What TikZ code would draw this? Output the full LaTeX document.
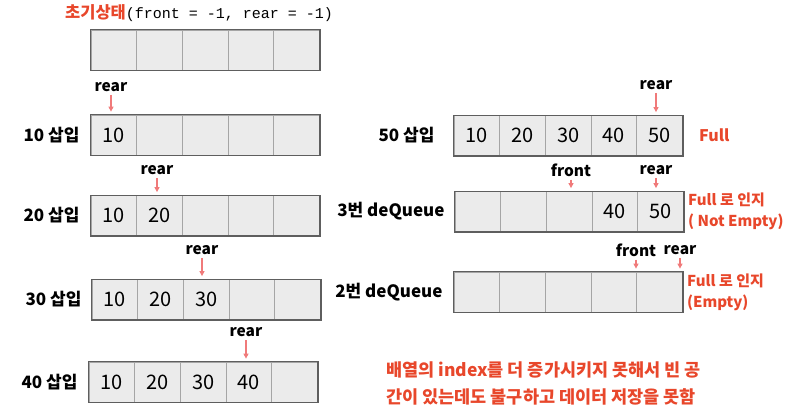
\documentclass[tikz,border=0pt]{standalone}
\usepackage{fontspec}
\setmainfont{Noto Sans CJK KR}
\setmonofont{Liberation Mono}
\usetikzlibrary{arrows.meta,positioning}
\definecolor{cellfill}{HTML}{EBEBEB}
\definecolor{cellline}{HTML}{A5A5A5}
\definecolor{frameline}{HTML}{5E5E5E}
\definecolor{ptrred}{HTML}{F07A7A}
\definecolor{notered}{HTML}{E8472B}

\begin{document}
\begin{tikzpicture}[x=1pt,y=-1pt,
    cell/.style={rectangle,draw=cellline,fill=cellfill,line width=0.8pt,minimum width=45.7pt,minimum height=40pt,inner sep=0pt,font=\fontsize{20}{22}\selectfont},
    frame/.style={draw=frameline,line width=1.2pt},
    oplabel/.style={inner sep=0pt,font=\bfseries\fontsize{17}{20}\selectfont},
    ptrlabel/.style={inner sep=0pt,font=\bfseries\fontsize{15.5}{18}\selectfont},
    note/.style={inner sep=0pt,align=left,text=notered,font=\bfseries\fontsize{15}{21}\selectfont},
    ptr/.style={draw=ptrred,line width=1.1pt,shorten <=3pt,shorten >=3pt,-{Triangle[length=5pt,width=5pt]}}]
    \useasboundingbox (0,0) rectangle (789,415);

    % initial state
    \node[inner sep=0pt,anchor=west] (title) at (65,13)
      {\textcolor{notered}{\bfseries\fontsize{16.5}{20}\selectfont 초기상태}\texttt{\fontsize{15}{17}\selectfont (front = -1, rear = -1)}};
    \foreach \c in {1,...,5}
      \node[cell] (i\c) at ({91+45.7*\c-22.85},50) {};

    % left column: insertions
    \foreach \v [count=\c] in {10,{},{},{},{}}
      \node[cell] (a\c) at ({91+45.7*\c-22.85},135) {\v};
    \foreach \v [count=\c] in {10,20,{},{},{}}
      \node[cell] (b\c) at ({91+45.7*\c-22.85},215.5) {\v};
    \foreach \v [count=\c] in {10,20,30,{},{}}
      \node[cell] (c\c) at ({92+45.7*\c-22.85},299.5) {\v};
    \foreach \v [count=\c] in {10,20,30,40,{}}
      \node[cell] (d\c) at ({89+45.7*\c-22.85},382) {\v};

    % right column: full, then dequeues
    \foreach \v [count=\c] in {10,20,30,40,50}
      \node[cell] (e\c) at ({454+45.7*\c-22.85},135.5) {\v};
    \foreach \v [count=\c] in {{},{},{},40,50}
      \node[cell] (f\c) at ({455+45.7*\c-22.85},211.5) {\v};
    \foreach \c in {1,...,5}
      \node[cell] (g\c) at ({454+45.7*\c-22.85},292) {};

    \foreach \r in {i,a,b,c,d,e,f,g}
      \draw[frame] (\r1.north west) rectangle (\r5.south east);

    % row labels
    \node[oplabel,left=11pt of a1] (la) {10 삽입};
    \node[oplabel,left=11pt of b1] (lb) {20 삽입};
    \node[oplabel,left=10pt of c1] (lc) {30 삽입};
    \node[oplabel,left=11pt of d1] (ld) {40 삽입};
    \node[oplabel,left=19pt of e1] (le) {50 삽입};
    \node[oplabel,left=10pt of f1] (lf) {3번 deQueue};
    \node[oplabel,left=11pt of g1] (lg) {2번 deQueue};

    % front / rear pointers
    \node[ptrlabel] (ra) at (111,87) {rear};
    \node[ptrlabel] (rb) at (157,170) {rear};
    \node[ptrlabel] (rc) at (202,250) {rear};
    \node[ptrlabel] (rd) at (246,332) {rear};
    \node[ptrlabel] (re) at (656,85) {rear};
    \node[ptrlabel] (ff) at (571,170) {front};
    \node[ptrlabel] (rf) at (656,170) {rear};
    \node[ptrlabel] (fg) at (636,250) {front};
    \node[ptrlabel] (rg) at (680,250) {rear};

    \draw[ptr] (ra.south) -- (ra.south |- a1.north);
    \draw[ptr] (rb.south) -- (rb.south |- b1.north);
    \draw[ptr] (rc.south) -- (rc.south |- c1.north);
    \draw[ptr] (rd.south) -- (rd.south |- d1.north);
    \draw[ptr] (re.south) -- (re.south |- e1.north);
    \draw[ptr] (ff.south) -- (ff.south |- f1.north);
    \draw[ptr] (rf.south) -- (rf.south |- f1.north);
    \draw[ptr] (fg.south) -- (fg.south |- g1.north);
    \draw[ptr] (rg.south) -- (rg.south |- g1.north);

    % notes
    \node[note,font=\bfseries\fontsize{16}{21}\selectfont,right=16pt of e5] (ne) {Full};
    \node[note,right=4pt of f5] (nf) {Full 로 인지\\( Not Empty)};
    \node[note,right=4pt of g5] (ng) {Full 로 인지\\(Empty)};
    \node[note,anchor=west,font=\bfseries\fontsize{17.5}{27}\selectfont] (nb) at (386,383.5)
      {배열의 index를 더 증가시키지 못해서 빈 공\\간이 있는데도 불구하고 데이터 저장을 못함};
\end{tikzpicture}
\end{document}
